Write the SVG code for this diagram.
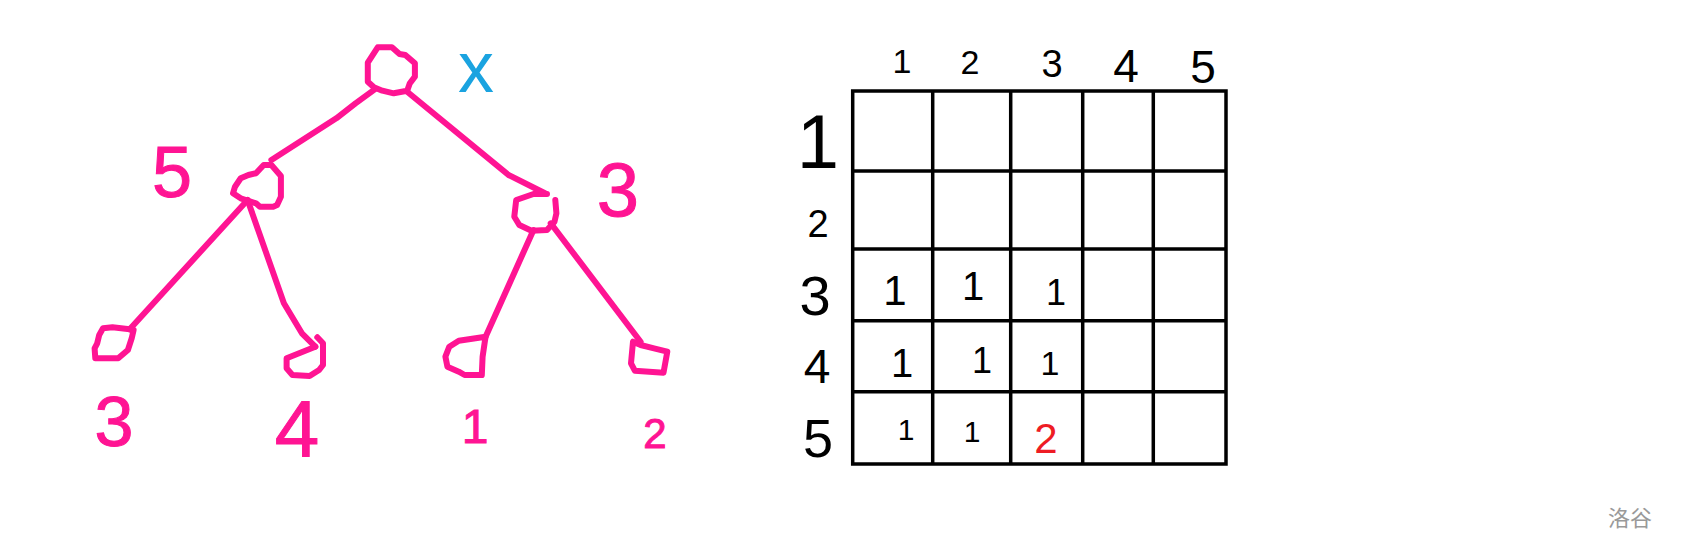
<svg xmlns="http://www.w3.org/2000/svg" width="1683" height="553" viewBox="0 0 1683 553">
<style>
.pk{fill:none;stroke:#ff1493;stroke-width:6;stroke-linecap:round;stroke-linejoin:round}
.grid{fill:none;stroke:#000;stroke-width:3.5}
.tp{font-family:"Liberation Sans",sans-serif;fill:#ff1493;stroke:#ff1493;stroke-width:1;text-anchor:middle}
.tb{font-family:"Liberation Sans",sans-serif;fill:#000;text-anchor:middle}
</style>
<rect width="1683" height="553" fill="#fff"/>
<g id="connectors">
<polyline class="pk" points="374.7,89.3 355.5,103.3 336.3,118.3 271.4,160"/>
<polyline class="pk" points="407.2,91.7 508.5,175 545,193.3"/>
<polyline class="pk" points="247.6,200 129.7,329.3"/>
<polyline class="pk" points="247.6,200 283.9,303.3 301.9,333.3 315.3,346.7"/>
<polyline class="pk" points="533.5,230 485.6,336.7"/>
<polyline class="pk" points="550.7,223.3 640.6,341.7"/>
</g>
<g id="node-root">
<polygon class="pk" points="377.7,47.3 391.9,47.3 399.5,54 405.3,55 414.9,63.3 414.9,76.7 409.8,83.3 407.2,90.7 393.7,93.3 382.3,90.7 373.9,87.3 367.8,81.7 367.8,62.7"/>
<text x="476" y="92" font-family="Liberation Sans,sans-serif" font-size="72" fill="#1aa3e0" text-anchor="middle">x</text>
</g>
<g id="node-5">
<polygon class="pk" points="263.7,165 271.4,165 280.9,176 280.9,196.7 277.1,205 273.2,206.7 259.9,206.7 256,203.3 240.7,198.3 233,193.3 235,186.7 240.7,178.3 248.4,175 256,173.3"/>
<text class="tp" x="172" y="197" font-size="72">5</text>
</g>
<g id="node-3">
<polyline class="pk" points="547,194 533.5,194 516.2,200 514.3,216.7 519.3,225 531.5,230.7 547,230 554.5,221.7 556.4,213.3 555.3,200"/>
<text class="tp" x="618" y="216" font-size="76">3</text>
</g>
<g id="leaf-3">
<polygon class="pk" points="129.7,329.3 112.5,327.3 103,328.3 99.2,335 97.2,343.3 94.6,348.3 95.3,358.3 118.2,358.3 127.9,350 131.7,338.3 133.6,330"/>
<text class="tp" x="114" y="446" font-size="70">3</text>
</g>
<g id="leaf-4">
<polyline class="pk" points="315.3,346.7 286.6,358.3 286.6,368.3 292.4,375 309.6,376 319.1,370 323,365 323,343.3 317.3,337.3"/>
<text class="tp" x="297" y="456" font-size="80">4</text>
</g>
<g id="leaf-1">
<polygon class="pk" points="485.6,336.7 458.8,340.7 449.3,346.7 445.4,356.7 447.4,366.7 458.8,371.7 464.6,375 481.8,375 482.6,356.7 484.8,341.7"/>
<text class="tp" x="475" y="443" font-size="48">1</text>
</g>
<g id="leaf-2">
<polygon class="pk" points="633,341.7 631,363.3 634.8,370.7 663.5,372.7 667.3,351.7 654,348.3 640.6,345"/>
<text class="tp" x="655" y="448" font-size="42">2</text>
</g>
<g id="grid">
<rect class="grid" x="852.7" y="91" width="373.3" height="373"/>
<line class="grid" x1="932.7" y1="91" x2="932.7" y2="464"/>
<line class="grid" x1="1010.7" y1="91" x2="1010.7" y2="464"/>
<line class="grid" x1="1082.7" y1="91" x2="1082.7" y2="464"/>
<line class="grid" x1="1153.3" y1="91" x2="1153.3" y2="464"/>
<line class="grid" x1="852.7" y1="171" x2="1226" y2="171"/>
<line class="grid" x1="852.7" y1="249" x2="1226" y2="249"/>
<line class="grid" x1="852.7" y1="320.7" x2="1226" y2="320.7"/>
<line class="grid" x1="852.7" y1="391.7" x2="1226" y2="391.7"/>
</g>
<g id="col-labels">
<text class="tb" x="902" y="73" font-size="34">1</text>
<text class="tb" x="970" y="74" font-size="34">2</text>
<text class="tb" x="1052" y="77" font-size="38">3</text>
<text class="tb" x="1126" y="82" font-size="46">4</text>
<text class="tb" x="1203" y="83" font-size="46">5</text>
</g>
<g id="row-labels">
<text class="tb" x="818" y="168" font-size="76">1</text>
<text class="tb" x="818" y="237" font-size="38">2</text>
<text class="tb" x="815" y="315" font-size="56">3</text>
<text class="tb" x="817" y="383" font-size="48">4</text>
<text class="tb" x="818" y="457" font-size="54">5</text>
</g>
<g id="cells">
<text class="tb" x="895" y="305" font-size="42">1</text>
<text class="tb" x="973" y="300" font-size="40">1</text>
<text class="tb" x="1056" y="305" font-size="36">1</text>
<text class="tb" x="902" y="377" font-size="40">1</text>
<text class="tb" x="982" y="373" font-size="36">1</text>
<text class="tb" x="1050" y="375" font-size="34">1</text>
<text class="tb" x="906" y="440" font-size="30">1</text>
<text class="tb" x="972" y="442" font-size="30">1</text>
<text x="1046" y="453" font-family="Liberation Sans,sans-serif" font-size="42" fill="#ee1c24" text-anchor="middle">2</text>
</g>
<text x="1630" y="526" font-family="Noto Sans CJK SC,sans-serif" font-size="22" fill="#999" text-anchor="middle">洛谷</text>
</svg>
